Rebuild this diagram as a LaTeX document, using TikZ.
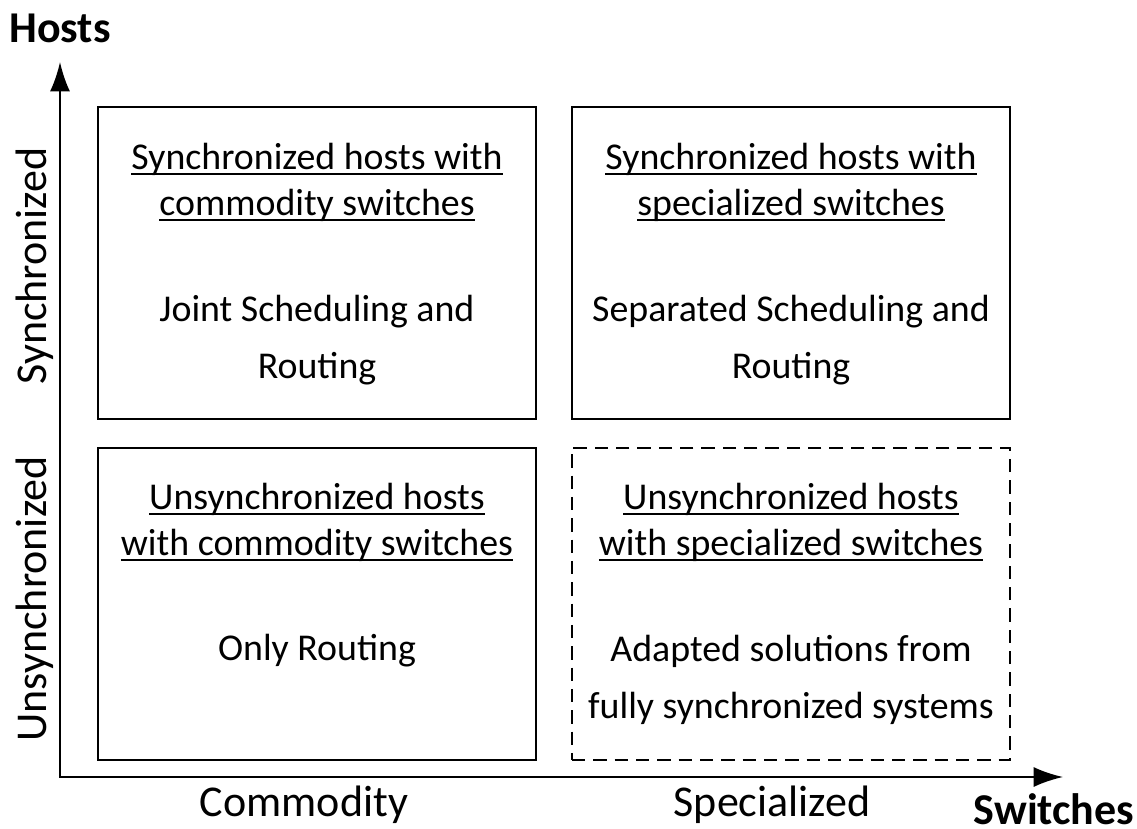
\documentclass[tikz,border=0pt]{standalone}
\usepackage{fontspec}
\setmainfont{Carlito}
\usetikzlibrary{arrows.meta}
% underline with a fixed offset and thickness
\newcommand\ulined[1]{\setbox0\hbox{#1}\rlap{\rule[-4.5pt]{\wd0}{1.4pt}}\box0}
\begin{document}
\begin{tikzpicture}[x=0.75pt,y=-0.75pt,
  quad/.style={draw, line width=1.5pt, minimum width=328.5pt, minimum height=234pt, inner sep=0pt},
  txt/.style={font=\fontsize{28.4}{34.5}\selectfont, align=center, inner sep=0pt},
  body/.style={txt, font=\fontsize{28.4}{42.8}\selectfont},
  axlab/.style={font=\fontsize{33}{40}\selectfont, inner sep=0pt},
  axis/.style={line width=1.5pt, {Latex[length=22pt,width=15pt]}-{Latex[length=22pt,width=15pt]}}]
\useasboundingbox (0,0) rectangle (1137,828);

% axes
\coordinate (o) at (60,777);
\coordinate (ytip) at (60,62);
\coordinate (xtip) at (1063,777);
\draw[axis] (ytip) -- (o) -- (xtip);

\node[axlab, font=\fontsize{33}{40}\selectfont\bfseries] (hosts) at (60,28) {Hosts};
\node[axlab, font=\fontsize{33}{40}\selectfont\bfseries, anchor=base] (switches) at (1054,824)
  {\raisebox{0pt}[\height][0pt]{Switches}};
\node[axlab] (commodity) at (304,805) {Commodity};
\node[axlab] (specialized) at (772,805) {Specialized};
\node[axlab, rotate=90] (sync) at (35,266) {Synchronized};
\node[axlab, rotate=90] (unsync) at (35,599) {Unsynchronized};

% quadrants
\node[quad] (sc) at (317,263) {};
\node[quad] (ss) at (791,263) {};
\node[quad] (uc) at (317,603.5) {};
\node[quad, dash pattern=on 10pt off 6pt] (us) at (791,603.5) {};

\node[txt] (sct) at (317,182) {\ulined{Synchronized hosts with}\\\ulined{commodity switches}};
\node[body] (scb) at (317,340) {Joint Scheduling and\\Routing};
\node[txt] (sst) at (791,182) {\ulined{Synchronized hosts with}\\\ulined{specialized switches}};
\node[body] (ssb) at (791,340) {Separated Scheduling and\\Routing};
\node[txt] (uct) at (317,522) {\ulined{Unsynchronized hosts}\\\ulined{with commodity switches}};
\node[body] (ucb) at (317,651) {Only Routing};
\node[txt] (ust) at (791,522) {\ulined{Unsynchronized hosts}\\\ulined{with specialized switches}};
\node[body] (usb) at (791,680) {Adapted solutions from\\fully synchronized systems};
\end{tikzpicture}
\end{document}
